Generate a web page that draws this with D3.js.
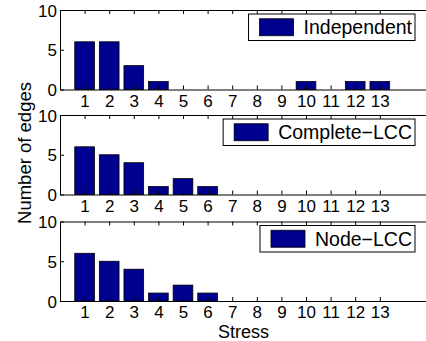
<!DOCTYPE html>
<html>
<head>
<meta charset="utf-8">
<script src="https://cdn.jsdelivr.net/npm/d3@7"></script>
<style>
  html, body { margin: 0; padding: 0; background: #fff; }
  svg { display: block; }
  text { font-family: "Liberation Sans", Arial, Helvetica, sans-serif; fill: #000; }
</style>
</head>
<body>
<svg id="chart" width="426" height="341"></svg>
<script>
// Stress levels on the x axis
const stressLevels = [1, 2, 3, 4, 5, 6, 7, 8, 9, 10, 11, 12, 13];
// Number of edges at each stress level, one array per method
const independentCounts = [6, 6, 3, 1, 0, 0, 0, 0, 0, 1, 0, 1, 1];
const completeLccCounts = [6, 5, 4, 1, 2, 1, 0, 0, 0, 0, 0, 0, 0];
const nodeLccCounts     = [6, 5, 4, 1, 2, 1, 0, 0, 0, 0, 0, 0, 0];
const seriesNames = ["Independent", "Complete\u2212LCC", "Node\u2212LCC"];
const yTicks = [0, 5, 10];

const panels = [
  { name: seriesNames[0], values: independentCounts },
  { name: seriesNames[1], values: completeLccCounts },
  { name: seriesNames[2], values: nodeLccCounts }
];

const svg = d3.select("#chart");
const left = 60, right = 429;
const panelTops = [10, 115, 221.5];
const panelH = 79.5;
const barColor = "#00008f";

const x = d3.scaleLinear().domain([0, 15]).range([left, right]);
const barW = (x(1) - x(0)) * 0.8;

panels.forEach((p, i) => {
  const top = panelTops[i];
  const y = d3.scaleLinear().domain([0, 10]).range([top + panelH, top]);
  const g = svg.append("g");

  // bars
  g.selectAll("rect.bar")
    .data(stressLevels.map((s, k) => ({ s, v: p.values[k] })).filter(d => d.v > 0))
    .join("rect")
    .attr("class", "bar")
    .attr("x", d => x(d.s) - barW / 2)
    .attr("y", d => y(d.v))
    .attr("width", barW)
    .attr("height", d => y(0) - y(d.v))
    .attr("fill", barColor)
    .attr("stroke", "#000")
    .attr("stroke-width", 0.8);

  // bottom axis with tick labels, ticks pointing inward
  const xb = g.append("g")
    .attr("transform", `translate(0,${y(0)})`)
    .call(d3.axisBottom(x).tickValues(stressLevels).tickSizeInner(-4).tickSizeOuter(0).tickPadding(5));
  // top axis, ticks only
  const xt = g.append("g")
    .attr("transform", `translate(0,${top})`)
    .call(d3.axisTop(x).tickValues(stressLevels).tickSizeInner(-4).tickSizeOuter(0).tickFormat(""));
  // left axis
  const yl = g.append("g")
    .attr("transform", `translate(${left},0)`)
    .call(d3.axisLeft(y).tickValues(yTicks).tickSizeInner(-4).tickSizeOuter(0).tickPadding(3));

  [xb, xt, yl].forEach(a => {
    a.selectAll("path.domain").attr("stroke", "#000").attr("stroke-width", 1);
    a.selectAll(".tick line").attr("stroke", "#000");
    a.selectAll(".tick text").attr("font-size", 17).attr("font-family", "Liberation Sans, Arial, sans-serif").attr("fill", "#000");
  });
  yl.selectAll(".tick text").attr("dy", "0.36em");

  // legend box in the upper right
  const lg = g.append("g");
  const lt = lg.append("text")
    .attr("font-size", 19.5)
    .text(p.name);
  const tw = lt.node().getComputedTextLength();
  const boxR = 415, boxTop = top + 4, boxH = 26.5;
  const boxW = 11 + 34 + 10 + tw + 3;
  const boxL = boxR - boxW;
  lg.insert("rect", "text")
    .attr("x", boxL).attr("y", boxTop)
    .attr("width", boxW).attr("height", boxH)
    .attr("fill", "#fff").attr("stroke", "#000").attr("stroke-width", 1);
  lg.insert("rect", "text")
    .attr("x", boxL + 11).attr("y", boxTop + (boxH - 17) / 2)
    .attr("width", 34).attr("height", 17)
    .attr("fill", barColor).attr("stroke", "#000").attr("stroke-width", 0.8);
  lt.attr("x", boxL + 11 + 34 + 10).attr("y", boxTop + boxH / 2).attr("dy", "0.36em");
});

// axis titles
svg.append("text")
  .attr("transform", `translate(31,153) rotate(-90)`)
  .attr("text-anchor", "middle")
  .attr("font-size", 18.5)
  .text("Number of edges");

svg.append("text")
  .attr("x", (left + right) / 2 - 1)
  .attr("y", 338)
  .attr("text-anchor", "middle")
  .attr("font-size", 18)
  .text("Stress");
</script>
</body>
</html>
